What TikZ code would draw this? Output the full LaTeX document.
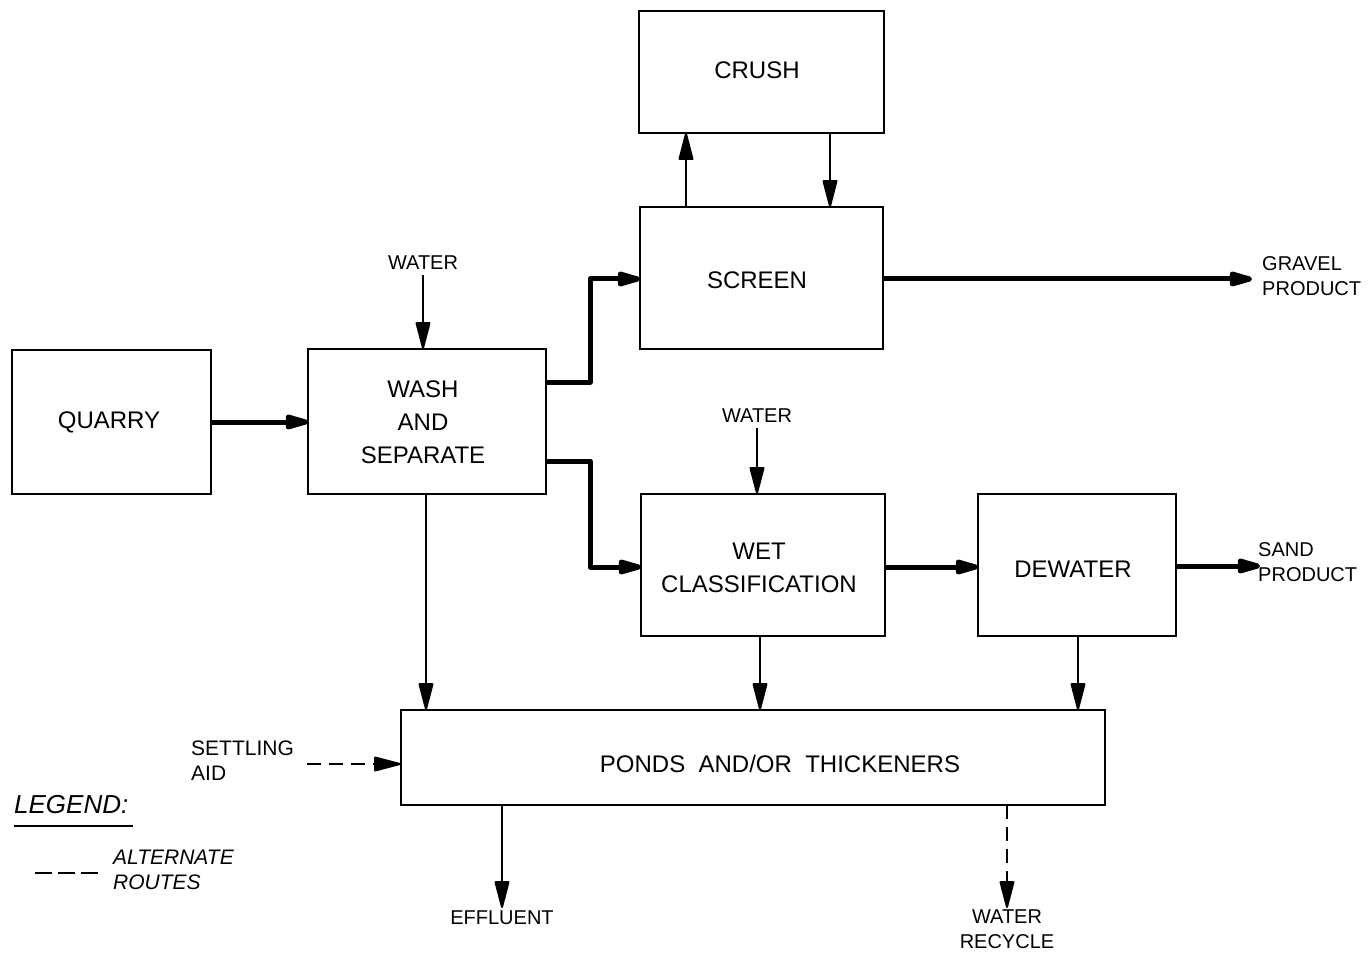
\documentclass[tikz,border=0pt]{standalone}
\usepackage{fontspec}
\setmainfont{Liberation Sans}
\usetikzlibrary{arrows.meta}
\begin{document}
\begin{tikzpicture}[x=1pt,y=-1pt,
  lbl/.style={font=\fontsize{24}{33}\selectfont,align=center},
  small/.style={font=\fontsize{20}{25}\selectfont,align=left,inner sep=0pt},
  flowtip/.style={-{Triangle[length=30pt,width=15pt,round]}},
  thickflow/.style={flowtip,line width=5pt},
  thinflow/.style={flowtip,line width=2pt},
  alt/.style={flowtip,line width=2pt,dash pattern=on 14pt off 8pt}]
\useasboundingbox (0,0) rectangle (1372,957);
% boxes
\draw[line width=2.5pt] (639,11) rectangle (884,133);
\node[lbl] (crush) at (757,70) {CRUSH};
\draw[line width=2.5pt] (640,207) rectangle (883,349);
\node[lbl] (screen) at (757,280) {SCREEN};
\draw[line width=2.5pt] (12,350) rectangle (211,494);
\node[lbl] (quarry) at (109,422) {QUARRY};
\draw[line width=2.5pt] (308,349) rectangle (546,494);
\node[lbl] (wash) at (423,422) {WASH\\AND\\SEPARATE};
\draw[line width=2.5pt] (641,494) rectangle (885,636);
\node[lbl] (wet) at (759,568) {WET\\CLASSIFICATION};
\draw[line width=2.5pt] (978,494) rectangle (1176,636);
\node[lbl] (dewater) at (1073,569) {DEWATER};
\draw[line width=2.5pt] (401,710) rectangle (1105,805);
\node[lbl] (ponds) at (780,764) {PONDS\ \ AND/OR\ \ THICKENERS};
% coordinates
\coordinate (qE) at (211,422);
\coordinate (wW) at (308,422);
\coordinate (wN) at (423,349);
\coordinate (water1) at (423,275);
\coordinate (wE1) at (546,382);
\coordinate (sW) at (640,279);
\coordinate (wE2) at (546,461);
\coordinate (cW) at (641,567);
\coordinate (sN1) at (686,207);
\coordinate (cS1) at (686,133);
\coordinate (cS2) at (830,133);
\coordinate (sN2) at (830,207);
\coordinate (sE) at (883,279);
\coordinate (grav) at (1252,279);
\coordinate (water2) at (757,428);
\coordinate (cN) at (757,494);
\coordinate (cE) at (885,567);
\coordinate (dW) at (978,567);
\coordinate (dE) at (1176,566);
\coordinate (sand) at (1260,566);
\coordinate (wS) at (426,494);
\coordinate (pN1) at (426,710);
\coordinate (cS) at (760,636);
\coordinate (pN2) at (760,710);
\coordinate (dS) at (1078,636);
\coordinate (pN3) at (1078,710);
\coordinate (aid) at (307,764);
\coordinate (pW) at (401,764);
\coordinate (pS1) at (502,805);
\coordinate (eff) at (502,908);
\coordinate (pS2) at (1007,805);
\coordinate (rec) at (1007,908);
% labels
\node[small,anchor=south] (lw1) at (423,270) {WATER};
\node[small,anchor=south] (lw2) at (757,423) {WATER};
\node[small,anchor=north west] (lgrav) at (1262,256) {GRAVEL\\PRODUCT};
\node[small,anchor=north west] (lsand) at (1258,542) {SAND\\PRODUCT};
\node[small,anchor=north west,font=\fontsize{21}{25}\selectfont] (laid) at (191,741) {SETTLING\\AID};
\node[small,anchor=north] (leff) at (502,911) {EFFLUENT};
\node[small,anchor=north,align=center] (lrec) at (1007,910) {WATER\\RECYCLE};
\node[small,anchor=north west,font=\fontsize{26}{28}\selectfont\itshape] (leg) at (14,795) {LEGEND:};
\draw[line width=2pt] (14,826) -- (133,826);
\node[small,anchor=north west,font=\fontsize{21}{25}\selectfont\itshape] (lalt) at (113,850) {ALTERNATE\\ROUTES};
\coordinate (la1) at (35,873);
\coordinate (la2) at (100,873);
\draw[line width=2pt,dash pattern=on 17pt off 6pt] (la1) -- (la2);
% connectors
\draw[thickflow] (qE) -- (wW);
\draw[thinflow] (water1) -- (wN);
\draw[thickflow,line join=round] (wE1) -- (590,382) -- (590,279) -- (sW);
\draw[thickflow,line join=round] (wE2) -- (590,461) -- (590,567) -- (cW);
\draw[thinflow] (sN1) -- (cS1);
\draw[thinflow] (cS2) -- (sN2);
\draw[thickflow] (sE) -- (grav);
\draw[thinflow] (water2) -- (cN);
\draw[thickflow] (cE) -- (dW);
\draw[thickflow] (dE) -- (sand);
\draw[thinflow] (wS) -- (pN1);
\draw[thinflow] (cS) -- (pN2);
\draw[thinflow] (dS) -- (pN3);
\draw[alt] (aid) -- (pW);
\draw[thinflow] (pS1) -- (eff);
\draw[alt] (pS2) -- (rec);
\end{tikzpicture}
\end{document}
